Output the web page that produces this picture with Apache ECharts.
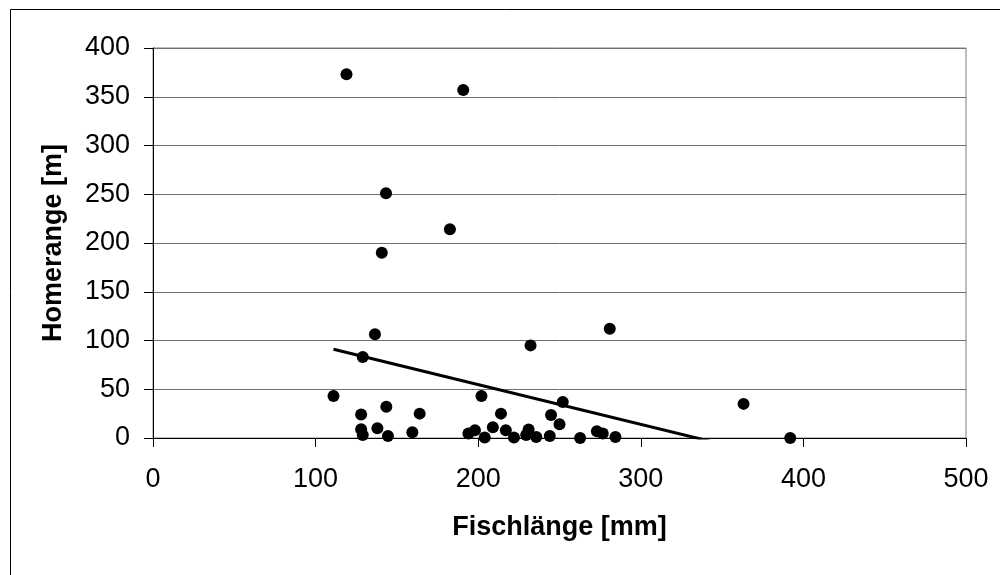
<!DOCTYPE html>
<html>
<head>
<meta charset="utf-8">
<script src="https://cdn.jsdelivr.net/npm/echarts@6/dist/echarts.min.js"></script>
<style>
html,body{margin:0;padding:0;background:#fff;}
#chart{width:1000px;height:575px;}
</style>
</head>
<body>
<div id="chart"></div>
<script>
// Fish length [mm]
var fishLength = [111, 119, 128, 128, 129, 129, 136.5, 138, 140.7, 143.3, 143.5, 144.5, 159.5, 164, 182.6, 190.8, 194, 198, 202, 204, 209, 214, 217, 222, 229.5, 231, 232.2, 235.7, 244, 244.8, 250, 252, 262.7, 273, 276.6, 280.9, 284.4, 363.2, 391.9];
// Home range [m]
var homeRange = [43, 373, 24, 9, 3, 83, 106.5, 10, 190, 251, 32, 2, 6, 25, 214, 357, 4.5, 8, 43, 0.5, 11, 25, 8, 0.4, 3, 8.6, 95, 1, 2, 23.5, 14, 37, 0, 7, 4.5, 112, 1, 35, 0];
// Linear trend line end points (x, y)
var trendX = [111, 392];
var trendY = [91, -23.5];
var xTicks = [0, 100, 200, 300, 400, 500];
var yTicks = [0, 50, 100, 150, 200, 250, 300, 350, 400];

var points = fishLength.map(function (x, i) { return [x, homeRange[i]]; });
var trend = trendX.map(function (x, i) { return [x, trendY[i]]; });

var chart = echarts.init(document.getElementById('chart'), null, {renderer: 'canvas'});
var font = "'Liberation Sans', Arial, sans-serif";
chart.setOption({
  animation: false,
  backgroundColor: '#ffffff',
  graphic: [{
    type: 'rect', left: 8, top: 7, z: -10, silent: true,
    shape: {width: 1100, height: 700},
    style: {fill: 'none', stroke: '#000', lineWidth: 1}
  }],
  grid: {left: 153, top: 48, right: 34, bottom: 137, show: true, borderColor: '#808080', borderWidth: 1, containLabel: false},
  xAxis: {
    type: 'value', min: xTicks[0], max: xTicks[xTicks.length - 1], interval: 100,
    name: 'Fischlänge [mm]', nameLocation: 'middle', nameGap: 76,
    nameTextStyle: {fontFamily: font, fontSize: 27, fontWeight: 'bold', color: '#000'},
    axisLine: {show: true, onZero: false, lineStyle: {color: '#000', width: 1}},
    axisTick: {show: true, inside: false, length: 9, lineStyle: {color: '#000'}},
    axisLabel: {fontFamily: font, fontSize: 27, color: '#000', margin: 28},
    splitLine: {show: false}
  },
  yAxis: {
    type: 'value', min: yTicks[0], max: yTicks[yTicks.length - 1], interval: 50,
    name: 'Homerange [m]', nameLocation: 'middle', nameGap: 86, nameRotate: 90,
    nameTextStyle: {fontFamily: font, fontSize: 27, fontWeight: 'bold', color: '#000'},
    axisLine: {show: true, onZero: false, lineStyle: {color: '#000', width: 1}},
    axisTick: {show: true, inside: false, length: 9, lineStyle: {color: '#000'}},
    axisLabel: {fontFamily: font, fontSize: 27, color: '#000', margin: 23},
    splitLine: {show: true, lineStyle: {color: '#707070', width: 1}}
  },
  series: [{
    type: 'scatter', data: points, symbol: 'circle', symbolSize: 12,
    itemStyle: {color: '#000', opacity: 1}, z: 3
  }, {
    type: 'line', data: trend, symbol: 'none', clip: true,
    lineStyle: {color: '#000', width: 3}, z: 2
  }]
});
</script>
</body>
</html>
